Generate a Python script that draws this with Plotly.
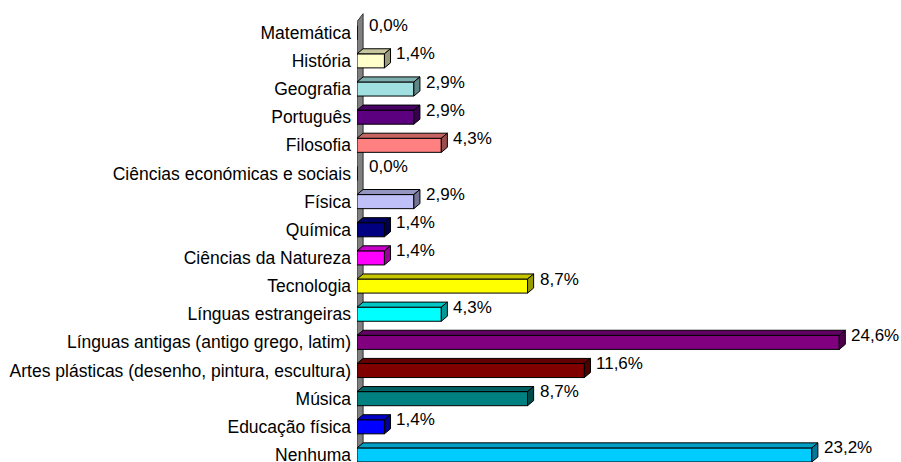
import plotly.graph_objects as go

# Data (top to bottom as displayed)
categories = [
    "Matemática", "História", "Geografia", "Português", "Filosofia",
    "Ciências económicas e sociais", "Física", "Química", "Ciências da Natureza",
    "Tecnologia", "Línguas estrangeiras", "Línguas antigas (antigo grego, latim)",
    "Artes plásticas (desenho, pintura, escultura)", "Música", "Educação física", "Nenhuma",
]
values = [0.0, 1.4, 2.9, 2.9, 4.3, 0.0, 2.9, 1.4, 1.4, 8.7, 4.3, 24.6, 11.6, 8.7, 1.4, 23.2]
colors = [
    "#9999FF", "#FFFFCC", "#A0E0E0", "#5C0080", "#FF8080", "#9999FF", "#C0C0F8",
    "#000080", "#FF00FF", "#FFFF00", "#00FFFF", "#800080", "#800000", "#008080",
    "#0000FF", "#00CCFF",
]

def shade(hexc, f):
    h = hexc.lstrip("#")
    r, g, b = (int(h[i:i + 2], 16) for i in (0, 2, 4))
    return "#%02X%02X%02X" % (int(r * f), int(g * f), int(b * f))

order = categories[::-1]  # bottom to top

fig = go.Figure()
fig.add_trace(go.Bar(
    y=categories, x=values, orientation="h",
    marker=dict(color=colors, line=dict(color="#000000", width=1)),
    width=0.5, showlegend=False, hoverinfo="skip",
))

FONT = "Liberation Sans, Arial, sans-serif"
dx, dy = 0.31, 0.18  # depth of the 3D effect in axis units
half = 0.25

shapes = []
# grey side wall
shapes.append(dict(
    type="path", xref="x", yref="y", layer="below",
    path=f"M 0 -0.3 L 0 15.39 L {dx} 15.675 L {dx} -0.3 Z",
    fillcolor="#808080", line=dict(color="#303030", width=1),
))
annotations = []
for cat, v, c in zip(categories, values, colors):
    idx = order.index(cat)
    if v > 0:
        top = idx + half
        bot = idx - half
        shapes.append(dict(
            type="path", xref="x", yref="y", layer="above",
            path=f"M 0 {top} L {v} {top} L {v + dx} {top + dy} L {dx} {top + dy} Z",
            fillcolor=shade(c, 0.78), line=dict(color="#000000", width=1),
        ))
        shapes.append(dict(
            type="path", xref="x", yref="y", layer="above",
            path=f"M {v} {bot} L {v} {top} L {v + dx} {top + dy} L {v + dx} {bot + dy} Z",
            fillcolor=shade(c, 0.6), line=dict(color="#000000", width=1),
        ))
    annotations.append(dict(
        x=v, y=cat, xref="x", yref="y", text=f"{v:.1f}%".replace(".", ","),
        showarrow=False, xanchor="left", yanchor="middle", xshift=10, yshift=7,
        font=dict(family=FONT, size=17, color="#000000"),
    ))

fig.update_layout(
    width=901, height=462,
    margin=dict(l=357, r=0, t=13, b=0, autoexpand=False),
    paper_bgcolor="#FFFFFF", plot_bgcolor="#FFFFFF",
    shapes=shapes, annotations=annotations,
    xaxis=dict(range=[0, 27.75], visible=False, showgrid=False, zeroline=False),
    yaxis=dict(
        categoryorder="array", categoryarray=order, range=[-0.25, 15.7],
        showgrid=False, zeroline=False, showline=False, ticks="",
        ticklabelstandoff=5, automargin=False,
        tickfont=dict(family=FONT, size=17.5, color="#000000"),
    ),
    bargap=0.5,
)

fig.write_html(
    "out.html",
    config={"displayModeBar": False},
    post_script="document.body.style.margin='0';document.body.style.padding='0';",
)
